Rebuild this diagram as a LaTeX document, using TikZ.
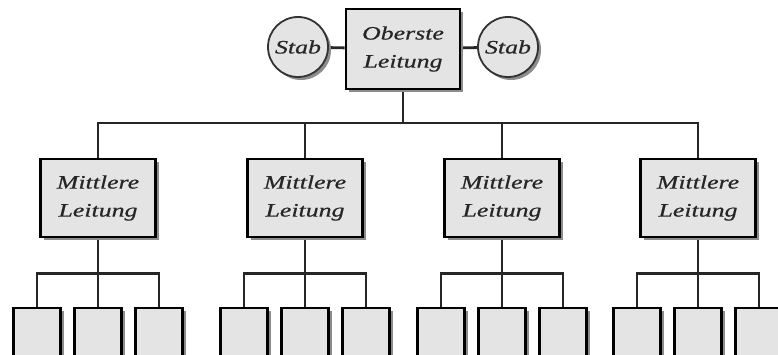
\documentclass[tikz,border=0pt]{standalone}
\usepackage{fontspec}
\newfontfamily\labfont[FakeStretch=1.36,FakeBold=0.6]{Liberation Serif}
\usetikzlibrary{shapes.geometric,shadows,calc}
\definecolor{boxfill}{HTML}{E4E4E4}
\definecolor{shadowgray}{HTML}{8C8C8C}
\pgfdeclarelayer{background}
\pgfsetlayers{background,main}
\begin{document}
\begin{tikzpicture}[x=1pt,y=-1pt,
  lab/.style={font=\labfont\itshape\fontsize{19}{28}\selectfont, align=center, text=black!85},
  shade3/.style={drop shadow={shadow xshift=3pt, shadow yshift=-3pt, fill=shadowgray, opacity=1}},
  box/.style={rectangle, draw=black, line width=2.8pt, fill=boxfill, inner sep=0pt, shade3, lab},
  topbox/.style={box, minimum width=114pt, minimum height=80pt},
  midbox/.style={box, minimum width=115pt, minimum height=78pt},
  leaf/.style={box, minimum width=47pt, minimum height=60pt},
  stab/.style={circle, draw=black!80, line width=1.8pt, fill=boxfill, inner sep=0pt, minimum size=60pt, shade3, lab},
  conn/.style={draw=black!85, line width=2.8pt}
]
\useasboundingbox (0,0) rectangle (778,355);
\clip (0,0) rectangle (778,355);

\node[topbox] (top) at (403,49) {Oberste\\Leitung};
\node[stab] (stabL) at (298,47) {Stab};
\node[stab] (stabR) at (508,47) {Stab};

\foreach \i/\cx in {1/98,2/305,3/502,4/698}{
  \node[midbox] (m\i) at (\cx,198) {Mittlere\\Leitung};
  \node[leaf] (l\i1) at (\cx-61,338) {};
  \node[leaf] (l\i2) at (\cx,338) {};
  \node[leaf] (l\i3) at (\cx+61,338) {};
}

\coordinate (tb) at (403,123);
\foreach \i in {1,2,3,4}{
  \coordinate (lb\i) at ($(m\i.south)+(0,35)$);
}

\begin{pgfonlayer}{background}
  \draw[conn] (stabL) -- (top);
  \draw[conn] (top) -- (stabR);
  \draw[conn] (top) -- (tb);
  \draw[conn] (m1.north) |- (tb) -| (m4.north);
  \draw[conn] (m2.north) -- (m2.north |- tb);
  \draw[conn] (m3.north) -- (m3.north |- tb);
  \foreach \i in {1,2,3,4}{
    \draw[conn] (m\i.south) -- (l\i2.north);
    \draw[conn] (l\i1.north) -- (l\i1.north |- lb\i) -| (l\i3.north);
  }
\end{pgfonlayer}
\end{tikzpicture}
\end{document}
